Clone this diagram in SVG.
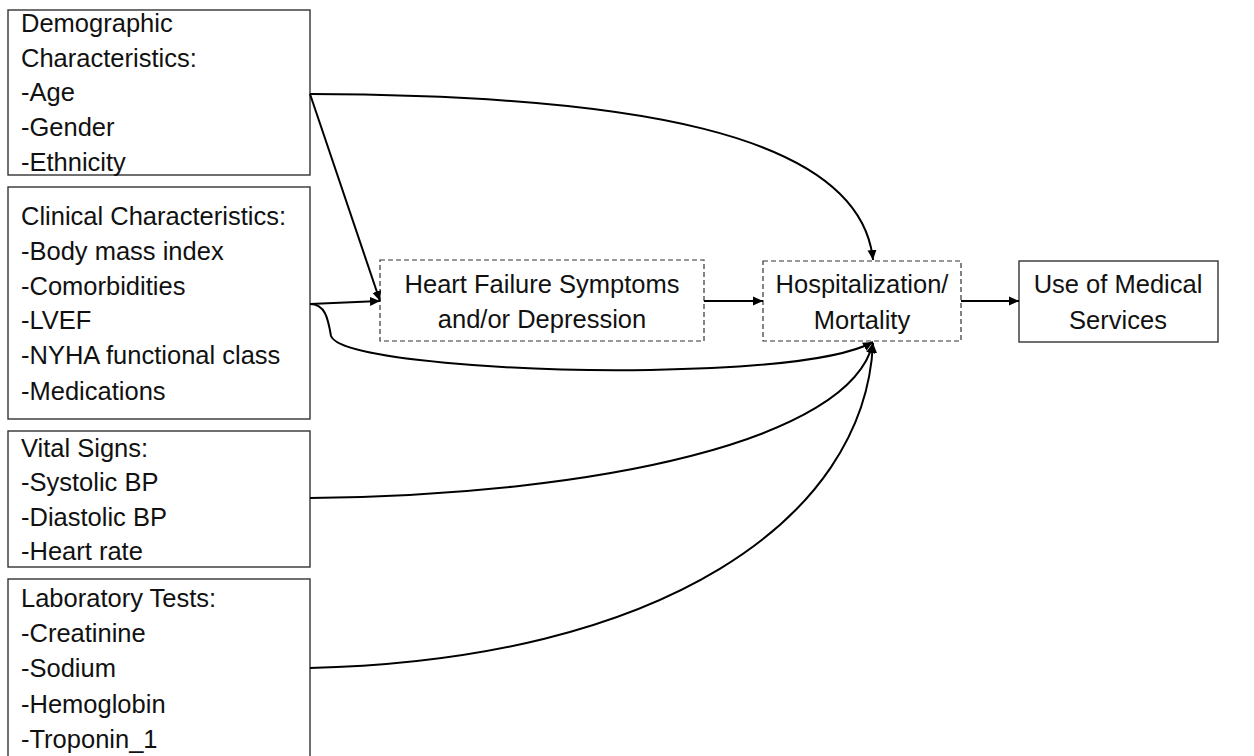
<svg xmlns="http://www.w3.org/2000/svg" width="1254" height="756" viewBox="0 0 1254 756">
<style>
.box{fill:#fff;stroke:#333;stroke-width:1.4}
.dbox{fill:#fff;stroke:#333;stroke-width:1.2;stroke-dasharray:5 3}
.t{font-family:"Liberation Sans",Arial,sans-serif;font-size:25.5px;fill:#111}
.c{text-anchor:middle}
.e{fill:none;stroke:#000;stroke-width:2;marker-end:url(#ah)}
</style>
<defs>
<marker id="ah" viewBox="0 0 10 10" refX="10" refY="5" markerWidth="10" markerHeight="10" markerUnits="userSpaceOnUse" orient="auto">
<path d="M0,0.5 L10,5 L0,9.5 Z" fill="#000"/>
</marker>
</defs>
<rect width="1254" height="756" fill="#fff"/>
<g id="demographic">
<rect class="box" x="8" y="10" width="302" height="165"/>
<text class="t" x="21" y="32">Demographic</text>
<text class="t" x="21" y="67">Characteristics:</text>
<text class="t" x="21" y="101">-Age</text>
<text class="t" x="21" y="136">-Gender</text>
<text class="t" x="21" y="171">-Ethnicity</text>
</g>
<g id="clinical">
<rect class="box" x="8" y="187" width="302" height="232"/>
<text class="t" x="21" y="225">Clinical Characteristics:</text>
<text class="t" x="21" y="260">-Body mass index</text>
<text class="t" x="21" y="295">-Comorbidities</text>
<text class="t" x="21" y="329">-LVEF</text>
<text class="t" x="21" y="364">-NYHA functional class</text>
<text class="t" x="21" y="400">-Medications</text>
</g>
<g id="vital">
<rect class="box" x="8" y="431" width="302" height="136"/>
<text class="t" x="21" y="457">Vital Signs:</text>
<text class="t" x="21" y="491">-Systolic BP</text>
<text class="t" x="21" y="526">-Diastolic BP</text>
<text class="t" x="21" y="560">-Heart rate</text>
</g>
<g id="lab">
<rect class="box" x="8" y="579" width="302" height="185"/>
<text class="t" x="21" y="607">Laboratory Tests:</text>
<text class="t" x="21" y="642">-Creatinine</text>
<text class="t" x="21" y="677">-Sodium</text>
<text class="t" x="21" y="713">-Hemoglobin</text>
<text class="t" x="21" y="748">-Troponin_1</text>
</g>
<g id="heartfailure">
<rect class="dbox" x="380" y="260" width="324" height="81"/>
<text class="t c" x="542" y="293">Heart Failure Symptoms</text>
<text class="t c" x="542" y="328">and/or Depression</text>
</g>
<g id="hospitalization">
<rect class="dbox" x="763" y="261" width="198" height="80"/>
<text class="t c" x="862" y="293">Hospitalization/</text>
<text class="t c" x="862" y="329">Mortality</text>
</g>
<g id="medical">
<rect class="box" x="1019" y="261" width="199" height="81"/>
<text class="t c" x="1118" y="293">Use of Medical</text>
<text class="t c" x="1118" y="329">Services</text>
</g>
<g id="connectors">
<path class="e" d="M310,94 C620,95 860,130 873,260"/>
<path class="e" d="M310,94 L380,301"/>
<path class="e" d="M310,304 L380,301"/>
<path class="e" d="M310,304 C325,304 328,318 331,336 C340,360 520,372 650,370 C760,368 840,360 873,342"/>
<path class="e" d="M310,498 C600,495 850,440 873,343"/>
<path class="e" d="M310,668 C660,660 865,520 873,343"/>
<path class="e" d="M704,301 L763,301"/>
<path class="e" d="M961,301 L1019,301"/>
</g>
</svg>
